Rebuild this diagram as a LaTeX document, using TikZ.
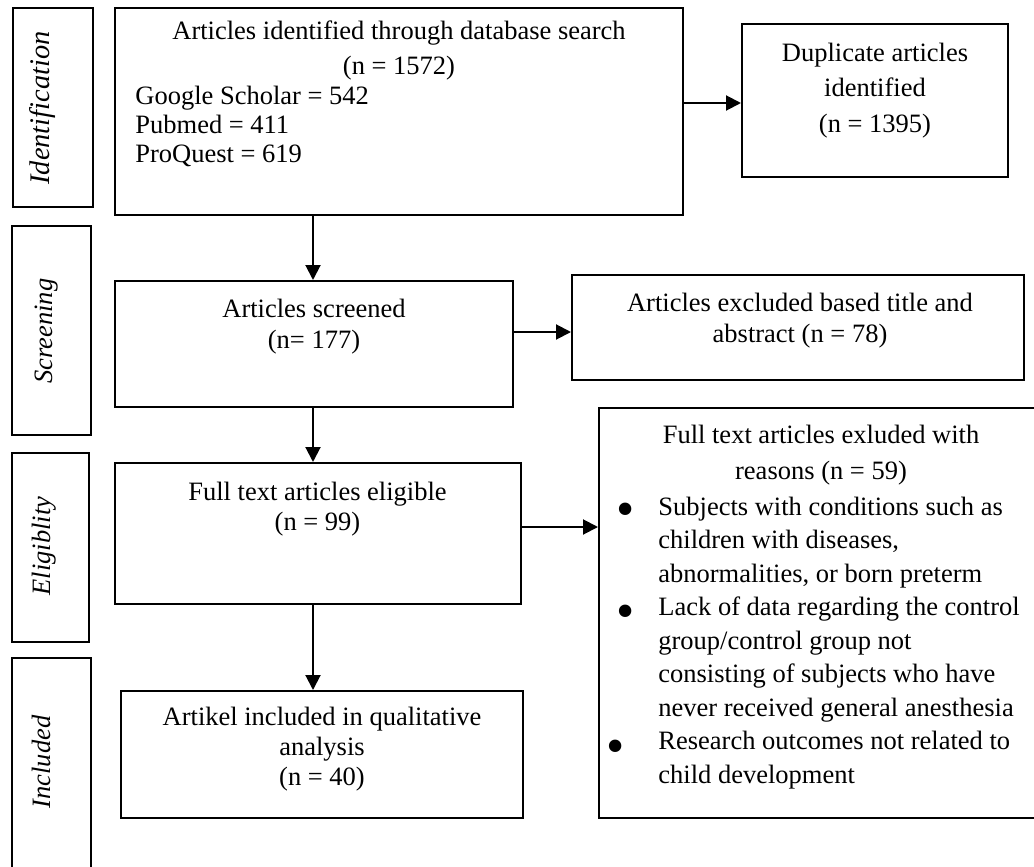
\documentclass[tikz,border=0pt]{standalone}
\usepackage{fontspec}
\setmainfont{Liberation Serif}
\usetikzlibrary{arrows.meta,fit}
\newcommand{\fsz}[1]{\fontsize{13.25}{#1}\selectfont}
\begin{document}
\begin{tikzpicture}[x=0.5pt,y=-0.5pt,
  frame/.style={draw, line width=1pt, inner sep=0pt, rectangle},
  txt/.style={inner sep=0pt, font=\fsz{17}},
  stage/.style={inner sep=0pt, font=\fsz{16}\itshape, rotate=90, anchor=base},
  bul/.style={inner sep=0pt, font=\fontsize{26}{26}\selectfont, anchor=base},
  arr/.style={line width=1pt, -{Triangle[length=7.5pt,width=7.5pt]}}]
\useasboundingbox (0,0) rectangle (1034,867);
\fill[white] (0,0) rectangle (1034,867);
\clip (0,0) rectangle (1034,867);

% stage frames
\node[frame, fit={(13,8) (93,207)}] (sid) {};
\node[frame, fit={(12,226) (91,435)}] (ssc) {};
\node[frame, fit={(12,453) (89,642)}] (sel) {};
\node[frame, fit={(12,658) (91,880)}] (sin) {};
\node[stage, font=\fontsize{14.2}{16}\selectfont\itshape] (lid) at (49,108) {Identification};
\node[stage] (lsc) at (52,331) {Screening};
\node[stage] (lel) at (50,546) {Eligiblity};
\node[stage] (lin) at (50,762) {Included};

% main boxes
\node[frame, fit={(115,8) (683,215)}] (b1) {};
\node[frame, fit={(742,24) (1008,177)}] (dup) {};
\node[frame, fit={(115,281) (513,407)}] (scr) {};
\node[frame, fit={(572,275) (1024,380)}] (ex1) {};
\node[frame, fit={(115,463) (521,604)}] (eli) {};
\node[frame, fit={(599,408) (1043,818)}] (ex2) {};
\node[frame, fit={(121,691) (523,818)}] (inc) {};

% texts (anchor base = baseline of the last line)
\node[txt, font=\fsz{17.5}, align=center, anchor=base] (t1) at (399,75)
  {Articles identified through database search\\(n = 1572)};
\node[txt, font=\fsz{14.25}, align=left, anchor=base west] (t2) at (135,162)
  {Google Scholar = 542\\Pubmed = 411\\ProQuest = 619};
\node[txt, font=\fsz{17.75}, align=center, anchor=base] (t3) at (875,132)
  {Duplicate articles\\identified\\(n = 1395)};
\node[txt, font=\fsz{15.5}, align=center, anchor=base] (t4) at (314,348)
  {Articles screened\\(n= 177)};
\node[txt, font=\fsz{15.5}, align=center, anchor=base] (t5) at (800,342)
  {Articles excluded based title and\\abstract (n = 78)};
\node[txt, font=\fsz{15}, align=center, anchor=base] (t6) at (317.5,530)
  {Full text articles eligible\\(n = 99)};
\node[txt, font=\fsz{15}, align=center, anchor=base] (t7) at (322,785)
  {Artikel included in qualitative\\analysis\\(n = 40)};
\node[txt, font=\fsz{18}, align=center, anchor=base] (t8) at (821,479)
  {Full text articles exluded with\\reasons (n = 59)};
\node[txt, font=\fsz{16.75}, align=left, anchor=base west] (t9) at (658,783)
  {Subjects with conditions such as\\children with diseases,\\abnormalities, or born preterm\\Lack of data regarding the control\\group/control group not\\consisting of subjects who have\\never received general anesthesia\\Research outcomes not related to\\child development};
\node[bul] (u1) at (626,526) {•};
\node[bul] (u2) at (626,628) {•};
\node[bul] (u3) at (616,763) {•};

% arrows
\draw[arr] (b1.east |- 0,103) -- (dup.west |- 0,103);
\draw[arr] (b1.south -| 313,0) -- (scr.north -| 313,0);
\draw[arr] (scr.east |- 0,332) -- (ex1.west |- 0,332);
\draw[arr] (scr.south -| 313,0) -- (eli.north -| 313,0);
\draw[arr] (eli.east |- 0,527) -- (ex2.west |- 0,527);
\draw[arr] (eli.south -| 313,0) -- (inc.north -| 313,0);
\end{tikzpicture}
\end{document}
